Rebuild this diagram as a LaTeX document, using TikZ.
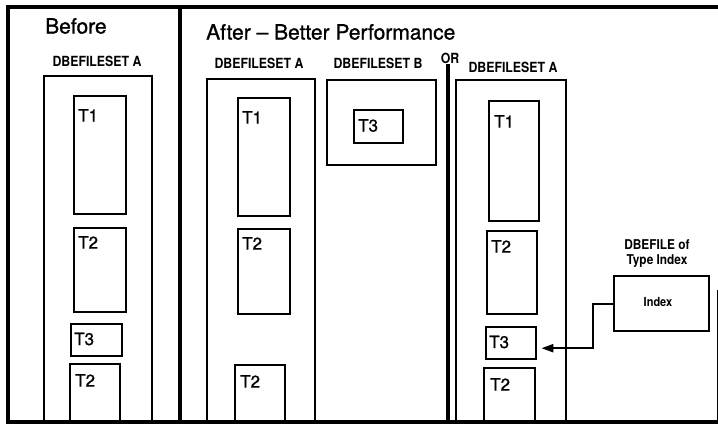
\documentclass[tikz,border=0pt]{standalone}
\usepackage{fontspec}
\setmainfont{TeX Gyre Heros}
\newfontfamily\scanfont{TeX Gyre Heros}[RawFeature={embolden=1.0}]
\usetikzlibrary{arrows.meta}
\newcommand{\narrowtxt}[1]{\scalebox{0.88}[1]{#1}}
\begin{document}
\begin{tikzpicture}[x=1pt,y=-1pt,
  frame/.style={line width=3.5pt},
  setline/.style={line width=2pt},
  tbl/.style={draw,line width=2.4pt,anchor=north west,inner sep=0pt},
  tlbl/.style={font=\scanfont\fontsize{17}{19}\selectfont,inner sep=0pt,anchor=north west},
  setlbl/.style={font=\fontsize{14}{16}\selectfont\bfseries,inner sep=0pt},
  title/.style={font=\scanfont\fontsize{21}{24}\selectfont,inner sep=0pt,anchor=west},
  small/.style={font=\fontsize{13.5}{15}\selectfont\bfseries,inner sep=0pt}]
\useasboundingbox (0,0) rectangle (718,432);
% outer frame
\draw[frame] (718,7) -- (8,7) -- (8,422) -- (718,422);
\draw[line width=1pt] (717,290) -- (717,422);
\draw[frame] (180,7) -- (180,422);
% titles
\node[title] (tBefore) at (45,26) {Before};
\node[title] (tAfter) at (206,32) {After – Better Performance};
% Before fileset
\node[setlbl] (lA1) at (97,61) {\narrowtxt{DBEFILESET A}};
\draw[setline] (44,422) -- (44,76) -- (152,76) -- (152,422);
\node[tbl,minimum width=52pt,minimum height=118pt] (b1) at (73,95) {};
\node[tlbl] (b1l) at (78,109) {T1};
\node[tbl,minimum width=52pt,minimum height=84pt] (b2) at (73,227) {};
\node[tlbl] (b2l) at (78,236) {T2};
\node[tbl,minimum width=51pt,minimum height=32pt] (b3) at (70,323) {};
\node[tlbl,anchor=west] (b3l) at (74,339) {T3};
\draw[line width=2.4pt] (70,422) -- (70,364) -- (120,364) -- (120,422);
\node[tlbl] (b4l) at (75,374) {T2};
% After fileset A
\node[setlbl] (lA2) at (259,63) {\narrowtxt{DBEFILESET A}};
\draw[setline] (207,422) -- (207,79) -- (315,79) -- (315,422);
\node[tbl,minimum width=52pt,minimum height=118pt] (a1) at (237,97) {};
\node[tlbl] (a1l) at (242,111) {T1};
\node[tbl,minimum width=52pt,minimum height=85pt] (a2) at (237,228) {};
\node[tlbl] (a2l) at (242,237) {T2};
\draw[line width=2.4pt] (235,422) -- (235,365) -- (285,365) -- (285,422);
\node[tlbl] (a4l) at (240,375) {T2};
% After fileset B
\node[setlbl] (lB) at (378,63) {\narrowtxt{DBEFILESET B}};
\node[draw,setline,anchor=north west,minimum width=109pt,minimum height=85pt,inner sep=0pt] (setB) at (326,79) {};
\node[tbl,minimum width=49pt,minimum height=33pt] (c3) at (353,109) {};
\node[tlbl,anchor=west] (c3l) at (358,125.5) {T3};
% OR bar
\node[setlbl,font=\fontsize{14}{15}\selectfont\bfseries] (or) at (450,58) {\narrowtxt{OR}};
\draw[line width=4pt] (448,64) -- (448,422);
% Right fileset A
\node[setlbl] (lA3) at (513,67) {\narrowtxt{DBEFILESET A}};
\draw[setline] (456,422) -- (456,80) -- (566,80) -- (566,422);
\node[tbl,minimum width=50pt,minimum height=120pt] (r1) at (488,100) {};
\node[tlbl] (r1l) at (494,115) {T1};
\node[tbl,minimum width=50pt,minimum height=83pt] (r2) at (486,230) {};
\node[tlbl] (r2l) at (491,240) {T2};
\node[tbl,minimum width=50pt,minimum height=32pt] (r3) at (485,326) {};
\node[tlbl,anchor=west] (r3l) at (489,342) {T3};
\draw[line width=2.4pt] (484,422) -- (484,368) -- (535,368) -- (535,422);
\node[tlbl] (r4l) at (490,378) {T2};
% Index DBEFILE
\node[small] (dl1) at (657,245) {\narrowtxt{DBEFILE of}};
\node[small] (dl2) at (657,261) {\narrowtxt{Type Index}};
\node[draw,line width=2.4pt,anchor=north west,minimum width=95pt,minimum height=55pt,inner sep=0pt] (idx) at (613,275) {};
\node[small,font=\fontsize{12.5}{14}\selectfont\bfseries] (idxl) at (658,302) {\narrowtxt{Index}};
\draw[line width=2.2pt,-{Triangle[length=12pt,width=8pt]}] (idx.west) -- ++(-20,0) |- ([xshift=4pt,yshift=-5pt]r3.east);
\end{tikzpicture}
\end{document}
